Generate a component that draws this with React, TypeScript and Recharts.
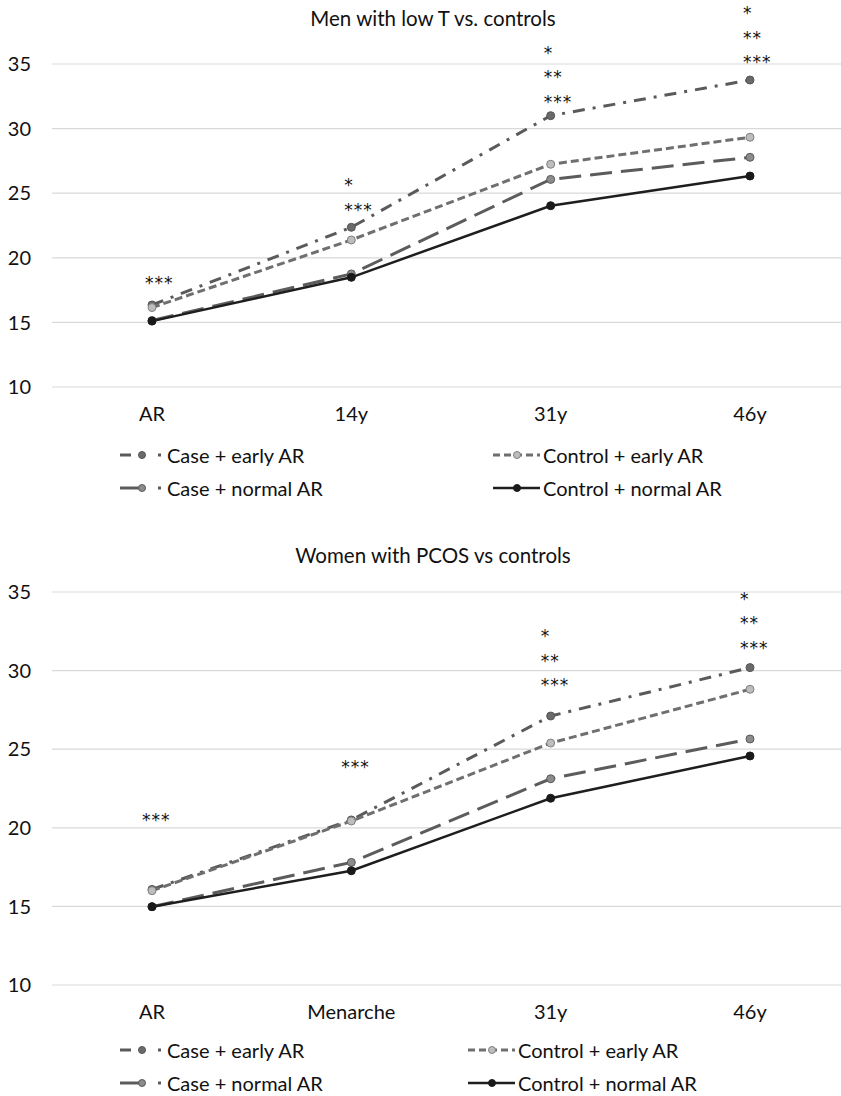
import React from "react";
import { LineChart, Line, XAxis, YAxis, CartesianGrid, ReferenceDot } from "recharts";

const menCategories = ["AR", "14y", "31y", "46y"];
const womenCategories = ["AR", "Menarche", "31y", "46y"];

const menCaseEarly = [16.35, 22.36, 31.0, 33.76];
const menControlEarly = [16.15, 21.38, 27.24, 29.33];
const menCaseNormal = [15.15, 18.75, 26.07, 27.78];
const menControlNormal = [15.1, 18.49, 24.03, 26.33];

const womenCaseEarly = [16.08, 20.5, 27.11, 30.19];
const womenControlEarly = [16.0, 20.43, 25.39, 28.81];
const womenCaseNormal = [14.98, 17.8, 23.12, 25.65];
const womenControlNormal = [14.98, 17.27, 21.88, 24.57];

const yTicks = [10, 15, 20, 25, 30, 35];

// significance marks per category, and the level (in y units) of the last row
const menStars = [["***"], ["*", "***"], ["*", "**", "***"], ["*", "**", "***"]];
const menStarLevel = [18.44, 24.09, 32.45, 35.54];
const womenStars = [["***"], ["***"], ["*", "**", "***"], ["*", "**", "***"]];
const womenStarLevel = [20.81, 24.19, 29.4, 31.76];

const FONT = "Lato, 'Open Sans', sans-serif";

const series = [
  { key: "caseEarly", name: "Case + early AR", stroke: "#5a5a5a", dash: "12 8 3 8", width: 3, dotFill: "#6a6a6a", dotStroke: "#555" },
  { key: "controlEarly", name: "Control + early AR", stroke: "#6f6f6f", dash: "8 4", width: 3, dotFill: "#bdbdbd", dotStroke: "#808080" },
  { key: "caseNormal", name: "Case + normal AR", stroke: "#5c5c5c", dash: "22 9", width: 3, dotFill: "#8c8c8c", dotStroke: "#5a5a5a" },
  { key: "controlNormal", name: "Control + normal AR", stroke: "#1e1e1e", dash: undefined, width: 2.5, dotFill: "#1a1a1a", dotStroke: "#1a1a1a" },
];

function buildRows(cats: string[], a: number[], b: number[], c: number[], d: number[]) {
  return cats.map((cat, i) => ({
    cat,
    caseEarly: a[i],
    controlEarly: b[i],
    caseNormal: c[i],
    controlNormal: d[i],
  }));
}

const menData = buildRows(menCategories, menCaseEarly, menControlEarly, menCaseNormal, menControlNormal);
const womenData = buildRows(womenCategories, womenCaseEarly, womenControlEarly, womenCaseNormal, womenControlNormal);

function StarStack({ cx, cy, lines, dx }: { cx?: number; cy?: number; lines: string[]; dx: number }) {
  if (cx == null || cy == null) return null;
  const n = lines.length;
  return (
    <g>
      {lines.map((t, i) => (
        <text
          key={i}
          x={cx + dx}
          y={cy - (n - 1 - i) * 24.5 + 5}
          dominantBaseline="central"
          textAnchor="start"
          fontFamily="'DejaVu Sans', sans-serif"
          fontSize={17}
          letterSpacing={1}
          fill="#111"
        >
          {t}
        </text>
      ))}
    </g>
  );
}

function Panel({
  data, height, plotHeight, stars, levels, starDx,
}: {
  data: any[]; height: number; plotHeight: number; stars: string[][]; levels: number[]; starDx: number;
}) {
  return (
    <LineChart width={849} height={height} data={data} margin={{ top: 64, right: 0, left: 0, bottom: height - 64 - 30 - plotHeight }}>
      <CartesianGrid vertical={false} stroke="#d9d9d9" strokeWidth={1.2} />
      <XAxis
        dataKey="cat"
        axisLine={false}
        tickLine={false}
        tickMargin={14}
        interval={0}
        padding={{ left: 100, right: 99 }}
        tick={{ fill: "#111", fontSize: 20, fontFamily: FONT }}
      />
      <YAxis
        width={52}
        domain={[10, 35]}
        ticks={yTicks}
        interval={0}
        axisLine={false}
        tickLine={false}
        tickMargin={15}
        tick={{ fill: "#111", fontSize: 20, fontFamily: FONT }}
      />
      {series.map((s) => (
        <Line
          key={s.key}
          dataKey={s.key}
          name={s.name}
          stroke={s.stroke}
          strokeWidth={s.width}
          strokeDasharray={s.dash}
          dot={{ r: 4, fill: s.dotFill, stroke: s.dotStroke, strokeWidth: 1, strokeDasharray: "0" }}
          activeDot={false}
          isAnimationActive={false}
        />
      ))}
      {data.map((row, i) => (
        <ReferenceDot
          key={"s" + i}
          x={row.cat}
          y={levels[i]}
          r={0}
          ifOverflow="visible"
          shape={(p: any) => <StarStack cx={p.cx} cy={p.cy} lines={stars[i]} dx={starDx} />}
        />
      ))}
    </LineChart>
  );
}

function LegendIcon({ idx }: { idx: number }) {
  const s = series[idx];
  const w = idx % 2 === 0 ? 45 : 47;
  return (
    <svg width={w} height={12} style={{ display: "block" }}>
      {idx === 0 && (
        <>
          <line x1={0} y1={6} x2={11} y2={6} stroke={s.stroke} strokeWidth={3} />
          <circle cx={22} cy={6} r={3.5} fill={s.dotFill} stroke={s.dotStroke} strokeWidth={1} />
          <rect x={38} y={4.5} width={3} height={3} fill={s.stroke} />
        </>
      )}
      {idx === 2 && (
        <>
          <line x1={0} y1={6} x2={22} y2={6} stroke={s.stroke} strokeWidth={3} />
          <circle cx={22} cy={6} r={3.5} fill={s.dotFill} stroke={s.dotStroke} strokeWidth={1} />
          <rect x={38} y={4.5} width={3} height={3} fill={s.stroke} />
        </>
      )}
      {idx === 1 && (
        <>
          <line x1={0} y1={6} x2={47} y2={6} stroke={s.stroke} strokeWidth={3} strokeDasharray="7 4" />
          <circle cx={24} cy={6} r={3.5} fill={s.dotFill} stroke={s.dotStroke} strokeWidth={1} />
        </>
      )}
      {idx === 3 && (
        <>
          <line x1={0} y1={6} x2={47} y2={6} stroke={s.stroke} strokeWidth={2.5} />
          <circle cx={24} cy={6} r={3.5} fill={s.dotFill} stroke={s.dotStroke} strokeWidth={1} />
        </>
      )}
    </svg>
  );
}

function LegendItem({ idx, left, top, textGap }: { idx: number; left: number; top: number; textGap: number }) {
  return (
    <div style={{ position: "absolute", left, top: top - 12, height: 24, display: "flex", alignItems: "center" }}>
      <LegendIcon idx={idx} />
      <span style={{ marginLeft: textGap, fontFamily: FONT, fontSize: 20, color: "#111", whiteSpace: "nowrap" }}>
        {series[idx].name}
      </span>
    </div>
  );
}

function Title({ text, top }: { text: string; top: number }) {
  return (
    <div style={{ position: "absolute", left: 0, width: 866, top, textAlign: "center", fontFamily: FONT, fontSize: 20.5, color: "#111", lineHeight: "24px" }}>
      {text}
    </div>
  );
}

export default function App() {
  return (
    <div style={{ position: "relative", width: 841, height: 1096, overflow: "hidden", background: "#fff" }}>
      <style>{"body{margin:0;overflow:hidden}"}</style>
      <Title text="Men with low T vs. controls" top={6} />
      <div style={{ position: "absolute", left: 0, top: 0 }}>
        <Panel data={menData} height={427} plotHeight={323} stars={menStars} levels={menStarLevel} starDx={-7} />
      </div>
      <LegendItem idx={0} left={120} top={455} textGap={2} />
      <LegendItem idx={1} left={493} top={455} textGap={3} />
      <LegendItem idx={2} left={120} top={488} textGap={2} />
      <LegendItem idx={3} left={493} top={488} textGap={3} />

      <Title text="Women with PCOS vs controls" top={543} />
      <div style={{ position: "absolute", left: 0, top: 528 }}>
        <Panel data={womenData} height={506} plotHeight={393} stars={womenStars} levels={womenStarLevel} starDx={-10} />
      </div>
      <LegendItem idx={0} left={120} top={1050} textGap={2} />
      <LegendItem idx={1} left={468} top={1050} textGap={3} />
      <LegendItem idx={2} left={120} top={1083} textGap={2} />
      <LegendItem idx={3} left={468} top={1083} textGap={3} />
    </div>
  );
}
